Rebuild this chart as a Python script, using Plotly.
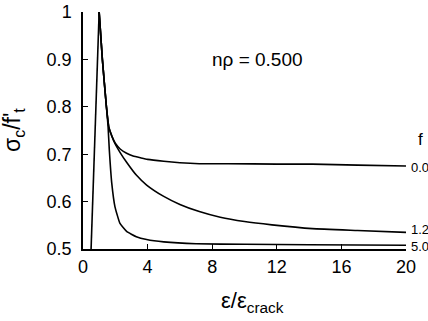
import plotly.graph_objects as go

# Data
eps_rise = [0.0, 1.0]
sig_rise = [0.0, 1.0]

eps_f00 = [1.0, 1.2, 1.45, 1.6, 1.8, 2.0, 2.3, 2.7, 3.1, 3.6, 4.0, 5.0, 6.0, 7.2, 9.0, 12.0, 14.2, 17.0, 20.0]
sig_f00 = [1.0, 0.9, 0.80, 0.757, 0.737, 0.723, 0.711, 0.702, 0.696, 0.692, 0.689, 0.685, 0.682, 0.680, 0.680, 0.679, 0.679, 0.677, 0.675]

eps_f12 = [1.0, 1.2, 1.45, 1.6, 1.8, 2.0, 2.29, 2.7, 3.3, 3.94, 5.0, 6.0, 7.2, 8.5, 10.0, 11.7, 14.2, 17.0, 20.0]
sig_f12 = [1.0, 0.9, 0.80, 0.757, 0.737, 0.721, 0.704, 0.683, 0.656, 0.635, 0.611, 0.594, 0.579, 0.567, 0.558, 0.551, 0.543, 0.539, 0.535]

eps_f50 = [1.0, 1.2, 1.45, 1.55, 1.63, 1.78, 1.98, 2.29, 2.7, 3.3, 3.94, 5.0, 7.0, 10.0, 14.0, 20.0]
sig_f50 = [1.0, 0.9, 0.80, 0.76, 0.709, 0.639, 0.589, 0.554, 0.537, 0.526, 0.520, 0.515, 0.511, 0.510, 0.509, 0.508]

f_labels = ["0.0", "1.2", "5.0"]
x_ticks = [0, 4, 8, 12, 16, 20]
y_ticks = [0.5, 0.6, 0.7, 0.8, 0.9, 1.0]
y_ticktext = ["0.5", "0.6", "0.7", "0.8", "0.9", "1"]

FONT = "Liberation Sans, Arial, Helvetica, sans-serif"

fig = go.Figure()
fig.add_trace(go.Scatter(x=eps_rise, y=sig_rise, mode="lines", line=dict(color="black", width=1.6)))
for ex, sy in [(eps_f00, sig_f00), (eps_f12, sig_f12), (eps_f50, sig_f50)]:
    fig.add_trace(go.Scatter(x=ex, y=sy, mode="lines",
                             line=dict(color="black", width=1.6, shape="spline", smoothing=0.4)))

# curve end labels (paper coords so they are not hidden outside the x range)
ends = [sig_f00[-1], sig_f12[-1], sig_f50[-1]]
offs = [-0.002, 0.006, -0.002]
for lab, yv, o in zip(f_labels, ends, offs):
    fig.add_annotation(x=1.01, y=yv + o, xref="paper", yref="y", text=lab, showarrow=False,
                       xanchor="left", yanchor="middle", font=dict(size=13, family=FONT, color="black"))
fig.add_annotation(x=1.03, y=0.73, xref="paper", yref="y", text="f", showarrow=False,
                   xanchor="left", yanchor="middle", font=dict(size=17, family=FONT, color="black"))

fig.add_annotation(x=10.8, y=0.9, xref="x", yref="y", text="nρ = 0.500", showarrow=False,
                   xanchor="center", yanchor="middle", font=dict(size=19, family=FONT, color="black"))

# axis titles
fig.add_annotation(x=-0.215, y=0.5, xref="paper", yref="paper",
                   text="σ<sub>c</sub>/f'<sub>t</sub>", textangle=-90, showarrow=False,
                   xanchor="center", yanchor="middle", font=dict(size=23, family=FONT, color="black"))
fig.add_annotation(x=0.525, y=-0.155, xref="paper", yref="paper",
                   text="ε/ε<sub>crack</sub>", showarrow=False,
                   xanchor="center", yanchor="top", font=dict(size=22, family=FONT, color="black"))

fig.update_layout(
    width=428, height=321,
    margin=dict(l=83, r=22, t=12, b=72, autoexpand=False),
    paper_bgcolor="white", plot_bgcolor="white",
    showlegend=False,
    font=dict(family=FONT, color="black"),
)
fig.update_xaxes(range=[0, 20], tickvals=x_ticks, ticktext=[str(v) for v in x_ticks],
                 showline=True, linecolor="black", linewidth=1.5, showgrid=False, zeroline=False,
                 ticks="inside", ticklen=5, tickwidth=1.2, tickcolor="black", automargin=False,
                 tickfont=dict(size=18, family=FONT, color="black"), ticklabelstandoff=1)
fig.update_yaxes(range=[0.5, 1.0], tickvals=y_ticks, ticktext=y_ticktext,
                 showline=True, linecolor="black", linewidth=1.5, showgrid=False, zeroline=False,
                 ticks="inside", ticklen=5, tickwidth=1.2, tickcolor="black", automargin=False,
                 tickfont=dict(size=18, family=FONT, color="black"), ticklabelstandoff=6)

fig.write_html("out.html")
